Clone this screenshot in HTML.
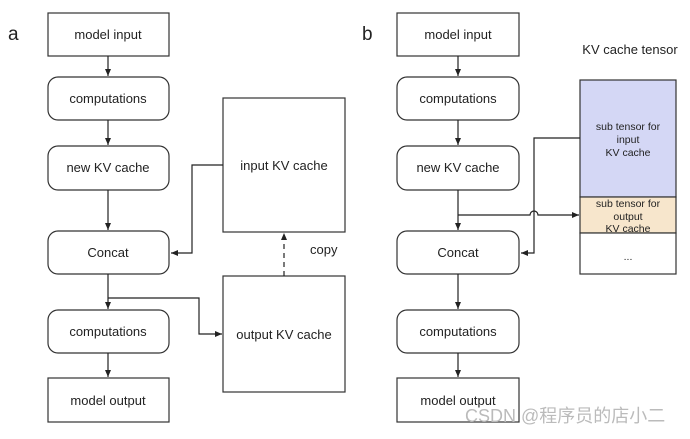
<!DOCTYPE html>
<html><head><style>body{margin:0;background:#fff}svg text{font-family:"Liberation Sans",sans-serif;fill:#222}</style></head><body>
<svg width="690" height="434" viewBox="0 0 690 434" xmlns="http://www.w3.org/2000/svg">
<defs><marker id="a" markerWidth="8" markerHeight="8" refX="7" refY="4" orient="auto" markerUnits="userSpaceOnUse"><path d="M0,1 L7,4 L0,7z" fill="#222"/></marker></defs>
<g stroke="#333" stroke-width="1.2" fill="#fff">
<rect x="48" y="13" width="121" height="43"/>
<rect x="48" y="77" width="121" height="43" rx="10"/>
<rect x="48" y="146" width="121" height="44" rx="10"/>
<rect x="48" y="231" width="121" height="43" rx="10"/>
<rect x="48" y="310" width="121" height="43" rx="10"/>
<rect x="48" y="378" width="121" height="44"/>
<rect x="223" y="98" width="122" height="134"/>
<rect x="223" y="276" width="122" height="116"/>
<rect x="397" y="13" width="122" height="43"/>
<rect x="397" y="77" width="122" height="43" rx="10"/>
<rect x="397" y="146" width="122" height="44" rx="10"/>
<rect x="397" y="231" width="122" height="43" rx="10"/>
<rect x="397" y="310" width="122" height="43" rx="10"/>
<rect x="397" y="378" width="122" height="44"/>
<rect x="580" y="80" width="96" height="117" fill="#d4d7f5"/>
<rect x="580" y="197" width="96" height="36" fill="#f7e6cc"/>
<rect x="580" y="233" width="96" height="41"/>
</g>
<g stroke="#222" stroke-width="1.2" fill="none">
<path d="M108 56V76" marker-end="url(#a)"/><path d="M108 120V145" marker-end="url(#a)"/><path d="M108 190V230" marker-end="url(#a)"/><path d="M108 274V309" marker-end="url(#a)"/><path d="M108 353V377" marker-end="url(#a)"/>
<path d="M223 165H192V253H171" marker-end="url(#a)"/>
<path d="M108 298H199V334H222" marker-end="url(#a)"/>
<path d="M284 276V233" stroke-dasharray="5,4" marker-end="url(#a)"/>
<path d="M458 56V76" marker-end="url(#a)"/><path d="M458 120V145" marker-end="url(#a)"/><path d="M458 190V230" marker-end="url(#a)"/><path d="M458 274V309" marker-end="url(#a)"/><path d="M458 353V377" marker-end="url(#a)"/>
<path d="M580 138H534V253H521" marker-end="url(#a)"/>
<path d="M458 215H530A4 4 0 0 1 538 215H579" marker-end="url(#a)"/>
</g>
<g font-size="13" text-anchor="middle">
<text x="108" y="39">model input</text><text x="108" y="103">computations</text><text x="108" y="172">new KV cache</text><text x="108" y="257">Concat</text><text x="108" y="336">computations</text><text x="108" y="405">model output</text>
<text x="284" y="170">input KV cache</text><text x="284" y="339">output KV cache</text>
<text x="458" y="39">model input</text><text x="458" y="103">computations</text><text x="458" y="172">new KV cache</text><text x="458" y="257">Concat</text><text x="458" y="336">computations</text><text x="458" y="405">model output</text>
<text x="630" y="54">KV cache tensor</text>
</g>
<text x="310" y="254" font-size="13">copy</text>
<text x="8" y="40" font-size="19">a</text><text x="362" y="40" font-size="19">b</text>
<g font-size="10.5" text-anchor="middle"><text x="628" y="130">sub tensor for</text><text x="628" y="143">input</text><text x="628" y="156">KV cache</text>
<text x="628" y="207">sub tensor for</text><text x="628" y="220">output</text><text x="628" y="232">KV cache</text><text x="628" y="260">...</text></g>
<text x="465" y="422" font-size="18" style="fill:#bbb;font-family:'Liberation Sans','Noto Sans CJK SC',sans-serif">CSDN @程序员的店小二</text>
</svg></body></html>
